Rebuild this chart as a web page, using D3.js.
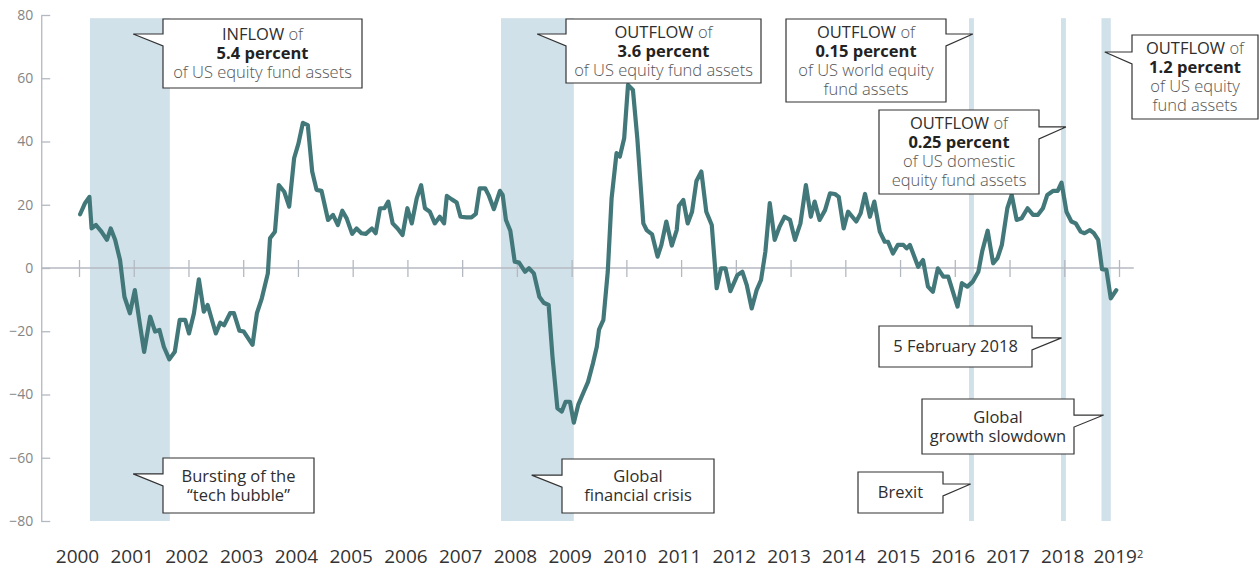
<!DOCTYPE html>
<html>
<head>
<meta charset="utf-8">
<script src="https://cdn.jsdelivr.net/npm/d3@7"></script>
<style>
  body { margin: 0; background: #fff; }
  svg { display: block; font-family: 'Open Sans', 'Noto Sans', sans-serif; }
</style>
</head>
<body>
<svg id="chart" width="1259" height="569"></svg>
<script>
// fund flows (decimal year, value)
const flowDates = [
  2000.02, 2000.11, 2000.19, 2000.23, 2000.31, 2000.41, 2000.51, 2000.58, 2000.66, 2000.75, 2000.83, 2000.93,
  2001.02, 2001.11, 2001.19, 2001.30, 2001.39, 2001.47, 2001.55, 2001.65, 2001.75, 2001.84, 2001.94,
  2002.01, 2002.10, 2002.19, 2002.28, 2002.35, 2002.50, 2002.58, 2002.65, 2002.76, 2002.83, 2002.93,
  2003.01, 2003.17, 2003.25, 2003.34, 2003.45, 2003.49, 2003.58, 2003.65, 2003.75, 2003.84, 2003.93,
  2004.01, 2004.09, 2004.18, 2004.26, 2004.34, 2004.43, 2004.55, 2004.64, 2004.73, 2004.81, 2004.89, 2004.99,
  2005.07, 2005.16, 2005.24, 2005.35, 2005.42, 2005.50, 2005.58, 2005.65, 2005.73, 2005.82, 2005.91,
  2006.00, 2006.08, 2006.17, 2006.25, 2006.32, 2006.41, 2006.50, 2006.59, 2006.67, 2006.72, 2006.81, 2006.90, 2006.97,
  2007.08, 2007.17, 2007.25, 2007.32, 2007.42, 2007.49, 2007.58, 2007.69, 2007.74, 2007.80, 2007.88, 2007.96,
  2008.04, 2008.15, 2008.22, 2008.31, 2008.41, 2008.49, 2008.58, 2008.65, 2008.74, 2008.82, 2008.89, 2008.97,
  2009.04, 2009.12, 2009.21, 2009.30, 2009.39, 2009.46, 2009.50, 2009.58, 2009.66, 2009.73, 2009.82, 2009.88, 2009.96,
  2010.03, 2010.12, 2010.20, 2010.31, 2010.37, 2010.47, 2010.57, 2010.64, 2010.73, 2010.83, 2010.92, 2010.96,
  2011.04, 2011.12, 2011.20, 2011.28, 2011.37, 2011.46, 2011.56, 2011.65, 2011.73, 2011.81, 2011.90,
  2012.03, 2012.12, 2012.20, 2012.29, 2012.38, 2012.46, 2012.54, 2012.62, 2012.71, 2012.80, 2012.89, 2012.99,
  2013.08, 2013.18, 2013.28, 2013.37, 2013.44, 2013.53, 2013.63, 2013.72, 2013.81, 2013.88, 2013.97,
  2014.05, 2014.20, 2014.28, 2014.36, 2014.45, 2014.53, 2014.63, 2014.72, 2014.78, 2014.87, 2014.96,
  2015.06, 2015.12, 2015.18, 2015.33, 2015.42, 2015.51, 2015.60, 2015.69, 2015.79, 2015.88,
  2016.05, 2016.13, 2016.23, 2016.33, 2016.43, 2016.50, 2016.60, 2016.70, 2016.78, 2016.86, 2016.96,
  2017.04, 2017.13, 2017.22, 2017.33, 2017.43, 2017.52, 2017.61, 2017.69, 2017.80, 2017.88, 2017.95,
  2018.04, 2018.13, 2018.21, 2018.30, 2018.37, 2018.47, 2018.54, 2018.62, 2018.69, 2018.77, 2018.85, 2018.95
];
const flowValues = [
  17.0, 20.5, 22.5, 12.5, 13.6, 11.5, 8.9, 12.5, 8.9, 2.5, -9.1, -14.3,
  -7.0, -17.5, -26.5, -15.4, -20.1, -19.6, -24.9, -28.9, -26.5, -16.4, -16.4,
  -20.7, -14.3, -3.6, -13.8, -11.7, -20.7, -17.3, -18.1, -14.3, -14.3, -19.8,
  -20.1, -24.3, -14.3, -9.6, -1.7, 9.4, 11.5, 26.2, 24.1, 19.4, 34.7,
  39.4, 45.9, 45.2, 30.5, 24.7, 24.4, 15.2, 16.8, 13.6, 18.1, 15.7, 10.8,
  12.5, 11.0, 10.8, 12.5, 11.0, 18.9, 18.9, 21.0, 14.1, 12.5, 10.4,
  18.9, 14.1, 22.0, 26.2, 18.9, 17.8, 14.1, 16.2, 14.1, 22.8, 21.7, 20.7, 16.2,
  16.0, 16.0, 17.1, 25.2, 25.2, 22.8, 18.6, 24.4, 23.1, 15.2, 11.8, 2.0,
  1.7, -1.2, -0.1, -1.7, -9.1, -11.0, -11.7, -28.0, -44.4, -45.4, -42.3, -42.3,
  -48.9, -43.3, -39.6, -36.0, -30.1, -24.9, -19.5, -16.4, -1.2, 22.0, 36.3, 35.2, 41.0,
  57.9, 56.3, 41.0, 14.1, 12.0, 10.6, 3.6, 7.3, 14.7, 7.1, 12.0, 19.7,
  21.5, 14.1, 17.8, 27.5, 30.5, 17.8, 13.6, -6.4, -0.1, -0.1, -7.3,
  -2.2, -1.2, -5.4, -12.8, -7.0, -3.8, 5.2, 20.5, 8.9, 13.1, 16.2, 15.2,
  8.9, 14.1, 26.2, 16.2, 21.0, 15.2, 18.3, 23.6, 23.4, 22.5, 12.5,
  17.8, 14.7, 17.3, 23.4, 16.2, 21.0, 11.5, 8.3, 8.3, 4.6, 7.3,
  7.3, 6.2, 7.3, 0.4, 2.5, -5.9, -7.5, -0.1, -2.7, -2.7,
  -12.2, -4.8, -5.9, -4.3, -1.2, 5.2, 11.8, 1.5, 3.1, 7.3, 18.9,
  23.1, 15.2, 15.7, 18.9, 16.8, 16.8, 18.9, 23.1, 24.4, 24.4, 27.0,
  17.8, 14.7, 14.1, 11.5, 11.0, 12.0, 11.0, 8.9, -0.4, -0.6, -9.6, -7.0
];

// shaded episodes (start, end)
const bandStarts = [2000.20, 2007.71, 2016.26, 2017.94, 2018.68];
const bandEnds = [2001.66, 2009.04, 2016.35, 2018.03, 2018.85];

// tick labels
const yearLabels = ['2000', '2001', '2002', '2003', '2004', '2005', '2006', '2007', '2008', '2009',
  '2010', '2011', '2012', '2013', '2014', '2015', '2016', '2017', '2018', '2019'];
const yTicks = [80, 60, 40, 20, 0, -20, -40, -60, -80];

// callouts: tip in data units, box in pixels
const callouts = [
  { tip: [2000.99, 74.0], box: [163, 19, 199, 69], side: 'left',
    lines: [[['INFLOW', 'main'], [' of', 'soft']], [['5.4 percent', 'bold']], [['of US equity fund assets', 'soft']]] },
  { tip: [2008.37, 74.0], box: [566, 19, 195, 64], side: 'left',
    lines: [[['OUTFLOW', 'main'], [' of', 'soft']], [['3.6 percent', 'bold']], [['of US equity fund assets', 'soft']]] },
  { tip: [2016.33, 74.0], box: [786, 19, 160, 83], side: 'right',
    lines: [[['OUTFLOW', 'main'], [' of', 'soft']], [['0.15 percent', 'bold']], [['of US world equity', 'soft']], [['fund assets', 'soft']]] },
  { tip: [2018.03, 44.6], box: [879, 110, 160, 84], side: 'right',
    lines: [[['OUTFLOW', 'main'], [' of', 'soft']], [['0.25 percent', 'bold']], [['of US domestic', 'soft']], [['equity fund assets', 'soft']]] },
  { tip: [2018.74, 68.3], box: [1132, 35, 126, 84], side: 'left',
    lines: [[['OUTFLOW', 'main'], [' of', 'soft']], [['1.2 percent', 'bold']], [['of US equity', 'soft']], [['fund assets', 'soft']]] },
  { tip: [2017.95, -22.1], box: [879, 326, 153, 41], side: 'right',
    lines: [[['5 February 2018', 'main']]] },
  { tip: [2018.72, -46.5], box: [922, 399, 152, 55], side: 'right',
    lines: [[['Global', 'main']], [['growth slowdown', 'main']]] },
  { tip: [2016.29, -68.3], box: [858, 472, 85, 41], side: 'right',
    lines: [[['Brexit', 'main']]] },
  { tip: [2000.99, -65.1], box: [163, 458, 151, 55], side: 'left',
    lines: [[['Bursting of the', 'main']], [['\u201Ctech bubble\u201D', 'main']]] },
  { tip: [2008.27, -65.5], box: [562, 459, 152, 54], side: 'left',
    lines: [[['Global', 'main']], [['financial crisis', 'main']]] }
];

const svg = d3.select('#chart');
const x = d3.scaleLinear().domain([2000, 2019]).range([79, 1119]);
const y = d3.scaleLinear().domain([-80, 80]).range([521, 15]);

const axisGrey = '#b4b9c1';

// shaded bands
svg.append('g')
  .selectAll('rect')
  .data(bandStarts.map((s, i) => ({ s, e: bandEnds[i] })))
  .enter()
  .append('rect')
  .attr('x', d => x(d.s))
  .attr('width', d => x(d.e) - x(d.s))
  .attr('y', y(79))
  .attr('height', y(-80) - y(79))
  .attr('fill', '#d1e1ea');

// y axis
const yAxis = svg.append('g')
  .attr('transform', `translate(${x(1999.31)},0)`)
  .call(d3.axisLeft(y).tickValues(yTicks).tickSizeInner(-9).tickSizeOuter(0).tickPadding(8));
yAxis.select('.domain').attr('stroke', axisGrey).attr('stroke-width', 1.3);
yAxis.selectAll('.tick line').attr('stroke', axisGrey).attr('stroke-width', 1.3);
yAxis.selectAll('.tick text')
  .attr('fill', '#858585')
  .style('font-size', '14px')
  .style('font-family', "'Open Sans', sans-serif");

// zero line with year ticks
const zeroAxis = svg.append('g')
  .attr('transform', `translate(0,${y(0)})`)
  .call(d3.axisBottom(x).tickValues(yearLabels.map(Number)).tickSizeOuter(0).tickFormat(''));
zeroAxis.select('.domain')
  .attr('d', `M${x(1999.31)},0H${x(2019.27)}`)
  .attr('stroke', axisGrey).attr('stroke-width', 1.3);
zeroAxis.selectAll('.tick line')
  .attr('y1', -8).attr('y2', 9)
  .attr('stroke', axisGrey).attr('stroke-width', 1.3);

// year labels at the bottom
const yearAxis = svg.append('g')
  .attr('transform', 'translate(-2,545)')
  .call(d3.axisBottom(x).tickValues(yearLabels.map(Number)).tickSize(0).tickPadding(0).tickFormat(d => String(d)));
yearAxis.select('.domain').remove();
yearAxis.selectAll('.tick text')
  .attr('fill', '#333')
  .attr('dy', '0.95em')
  .style('font-size', '19px')
  .style('font-family', "'Open Sans', sans-serif");
yearAxis.selectAll('.tick text')
  .filter(d => d === 2019)
  .attr('text-anchor', 'start')
  .attr('x', -24)
  .text(null)
  .call(t => {
    t.append('tspan').text('2019');
    t.append('tspan').text('2').attr('dy', '-0.45em').style('font-size', '11px');
  });

// the flow line
const line = d3.line()
  .x(d => x(d.date))
  .y(d => y(d.value));
svg.append('path')
  .datum(flowDates.map((date, i) => ({ date, value: flowValues[i] })))
  .attr('d', line)
  .attr('fill', 'none')
  .attr('stroke', '#42787a')
  .attr('stroke-width', 4.2)
  .attr('stroke-linejoin', 'round')
  .attr('stroke-linecap', 'round');

// callout boxes
const styles = {
  main: { fill: '#2e2e2e', weight: 400 },
  soft: { fill: '#555', weight: 300 },
  bold: { fill: '#222', weight: 700 }
};
const lineGap = 19;
const notch = 12;

callouts.forEach(c => {
  const [bx, by, bw, bh] = c.box;
  const tx = x(c.tip[0]);
  const ty = y(c.tip[1]);
  let d;
  if (c.side === 'left') {
    d = `M${bx},${by}H${bx + bw}V${by + bh}H${bx}V${ty + notch}L${tx},${ty}H${bx}Z`;
  } else {
    const rx = bx + bw;
    d = `M${bx},${by}H${rx}V${ty}H${tx}L${rx},${ty + notch}V${by + bh}H${bx}Z`;
  }
  const g = svg.append('g');
  g.append('path')
    .attr('d', d)
    .attr('fill', '#fff')
    .attr('stroke', '#333')
    .attr('stroke-width', 1.2)
    .attr('stroke-linejoin', 'miter');

  const cx = bx + bw / 2;
  const firstY = by + bh / 2 - (c.lines.length - 1) * lineGap / 2;
  c.lines.forEach((parts, i) => {
    const t = g.append('text')
      .attr('x', cx)
      .attr('y', firstY + i * lineGap)
      .attr('dy', '0.35em')
      .attr('text-anchor', 'middle')
      .style('font-size', '16.5px');
    parts.forEach(([txt, key]) => {
      t.append('tspan')
        .text(txt)
        .attr('fill', styles[key].fill)
        .style('font-weight', styles[key].weight);
    });
  });
});
</script>
</body>
</html>
